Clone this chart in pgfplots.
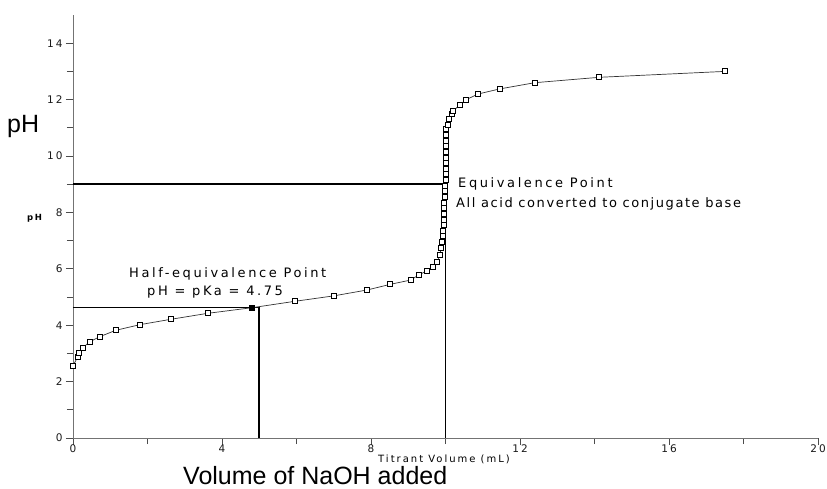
\documentclass[border=0pt]{standalone}
\usepackage{fontspec}
\setmainfont{Liberation Sans}
\newfontfamily\gen[LetterSpace=20]{DejaVu Sans}
\newfontfamily\genb[LetterSpace=12]{DejaVu Sans}
\usepackage{pgfplots}
\pgfplotsset{compat=1.18}
\begin{document}
\begin{tikzpicture}
\useasboundingbox (0,0) rectangle (827pt,488pt);
\begin{axis}[
  at={(73pt,50pt)}, anchor=south west,
  scale only axis, width=745pt, height=423pt,
  xmin=0, xmax=20, ymin=0, ymax=15,
  axis lines=left,
  axis line style={-, black!55, line width=0.9pt},
  xtick={0,4,...,20}, minor x tick num=1,
  ytick={0,2,...,14}, minor y tick num=1,
  tick align=outside,
  major tick length=7pt, minor tick length=6pt,
  tick style={black!70, line width=0.8pt},
  /pgf/number format/assume math mode=true,
  ticklabel style={font=\fontsize{10.5}{12}\gen, text=black!90},
  xticklabel style={yshift=4pt},
  clip=false,
]
% reference lines
\addplot[black, line width=1.6pt] coordinates {(0,9) (10,9)};
\addplot[black, line width=1.9pt] coordinates {(10,0) (10,9)};
\addplot[black, line width=1.6pt] coordinates {(0,4.63) (5,4.63)};
\addplot[black, line width=1.7pt] coordinates {(5,0) (5,4.63)};
% titration curve
\addplot[black!80, line width=0.7pt, mark=square*, mark size=2.5pt,
  mark options={draw=black, fill=white, line width=0.8pt}] coordinates {
(0,2.56) (0.12,2.86) (0.17,3.02) (0.26,3.2) (0.46,3.42) (0.73,3.6)
(1.15,3.82) (1.8,4.02) (2.63,4.21) (3.61,4.42) (4.8,4.62) (5.97,4.85)
(7.0,5.04) (7.9,5.25) (8.52,5.45) (9.06,5.6) (9.28,5.78) (9.5,5.93)
(9.67,6.07) (9.78,6.25) (9.85,6.49) (9.88,6.73) (9.91,6.96) (9.93,7.15)
(9.94,7.35) (9.95,7.55) (9.96,7.75) (9.96,7.95) (9.97,8.15) (9.97,8.35)
(9.98,8.55) (9.98,8.75) (9.99,8.95) (10.0,9.15) (10.0,9.35) (10.0,9.55)
(10.0,9.75) (10.0,9.95) (10.0,10.15) (10.0,10.35) (10.0,10.55) (10.0,10.75)
(10.02,10.95) (10.07,11.1) (10.1,11.3) (10.16,11.48) (10.2,11.6) (10.38,11.8)
(10.54,11.99) (10.88,12.2) (11.46,12.38) (12.4,12.6) (14.12,12.79) (17.5,13.0)
};
% filled point at half-equivalence
\addplot[only marks, mark=square*, mark size=2.5pt, mark options={draw=black, fill=black}] coordinates {(4.8,4.62)};
\end{axis}
% texts
\node[anchor=base west, inner sep=0pt] at (7pt,355pt) {\fontsize{25}{28}\selectfont pH};
\node[anchor=base west, inner sep=0pt] at (183pt,4pt) {\fontsize{25}{28}\selectfont Volume of NaOH added};
\node[anchor=base west, inner sep=0pt] at (27pt,268pt) {\fontsize{8.5}{10}\gen\bfseries pH};
\node[anchor=base, inner sep=0pt] at (444pt,26pt) {\fontsize{10}{12}\gen Titrant Volume (mL)};
\node[anchor=base west, inner sep=0pt] at (458pt,300.3pt) {\fontsize{13}{15}\gen Equivalence Point};
\node[anchor=base west, inner sep=0pt] at (456pt,280.3pt) {\fontsize{13}{15}\genb All acid converted to conjugate base};
\node[anchor=base west, inner sep=0pt] at (129pt,211pt) {\fontsize{13}{15}\gen Half-equivalence Point};
\node[anchor=base west, inner sep=0pt] at (147pt,193pt) {\fontsize{13}{15}\gen pH = pKa = 4.75};
\end{tikzpicture}
\end{document}
